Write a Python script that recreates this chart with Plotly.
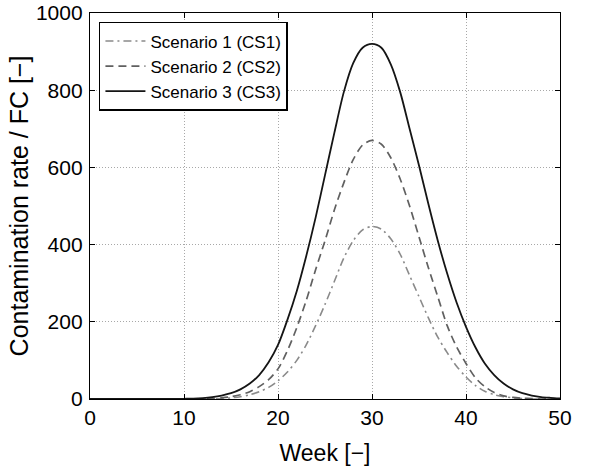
import plotly.graph_objects as go

weeks = list(range(0, 51))

cs1 = [0, 0, 0, 0, 0, 0, 0, 0, 0, 0,
       0, 0, 0, 0, 1, 3, 6, 11, 19, 30,
       47, 70, 100, 140, 190, 245, 305, 365, 410, 438,
       447, 440, 415, 375, 320, 265, 210, 160, 120, 85,
       57, 35, 20, 11, 6, 3, 1, 0, 0, 0, 0]

cs2 = [0, 0, 0, 0, 0, 0, 0, 0, 0, 0,
       0, 0, 0, 1, 3, 6, 11, 19, 32, 50,
       78, 125, 185, 255, 335, 410, 490, 560, 620, 658,
       670, 660, 625, 570, 500, 420, 340, 265, 190, 135,
       92, 55, 32, 17, 8, 4, 2, 1, 0, 0, 0]

cs3 = [0, 0, 0, 0, 0, 0, 0, 0, 0, 0,
       0.5, 1, 2.5, 5, 9, 15, 25, 40, 62, 95,
       140, 205, 280, 370, 470, 580, 690, 795, 870, 910,
       920, 910, 867, 795, 700, 605, 505, 410, 325, 250,
       187, 134, 92, 62, 40, 25, 15, 9, 5, 3, 1.5]

series_names = ["Scenario 1 (CS1)", "Scenario 2 (CS2)", "Scenario 3 (CS3)"]
x_ticks = [0, 10, 20, 30, 40, 50]
y_ticks = [0, 200, 400, 600, 800, 1000]

FONT = "Liberation Sans, Arial, sans-serif"

fig = go.Figure()
fig.add_trace(go.Scatter(x=weeks, y=cs1, mode="lines", name=series_names[0],
                         line=dict(color="#8a8a8a", width=1.6, dash="8px,4px,2px,4px",
                                   shape="spline", smoothing=0.8)))
fig.add_trace(go.Scatter(x=weeks, y=cs2, mode="lines", name=series_names[1],
                         line=dict(color="#606060", width=1.7, dash="8px,5px",
                                   shape="spline", smoothing=0.8)))
fig.add_trace(go.Scatter(x=weeks, y=cs3, mode="lines", name=series_names[2],
                         line=dict(color="#151515", width=1.8,
                                   shape="spline", smoothing=0.8)))

axis_common = dict(
    showline=True, linecolor="black", linewidth=1.3, mirror="allticks",
    ticks="inside", ticklen=5, tickcolor="black", tickwidth=1,
    showgrid=True, gridcolor="#a8a8a8", gridwidth=1, griddash="1px,2px",
    zeroline=False, tickfont=dict(size=21, color="black", family=FONT),
    automargin=False,
)

fig.update_xaxes(range=[0, 50], tickvals=x_ticks, ticktext=[str(v) for v in x_ticks],
                 title=dict(text="Week [−]", font=dict(size=23, color="black", family=FONT),
                            standoff=16),
                 **axis_common)
fig.update_yaxes(range=[0, 1000], tickvals=y_ticks, ticktext=[str(v) for v in y_ticks],
                 title=dict(text="Contamination rate / FC [−]",
                            font=dict(size=25, color="black", family=FONT), standoff=0),
                 ticklabelstandoff=2,
                 **axis_common)

fig.update_layout(
    width=595, height=470,
    margin=dict(l=90, r=35, t=13, b=71, autoexpand=False),
    plot_bgcolor="white", paper_bgcolor="white",
    font=dict(family=FONT, color="black"),
    showlegend=True,
    legend=dict(x=0.019, y=0.977, xanchor="left", yanchor="top",
                bgcolor="white", bordercolor="black", borderwidth=1.5,
                font=dict(size=17, color="black", family=FONT),
                tracegroupgap=0, itemwidth=40),
)

fig.write_html("out.html",
               config={"displayModeBar": False},
               post_script="document.body.style.margin='0';document.body.style.padding='0';")
